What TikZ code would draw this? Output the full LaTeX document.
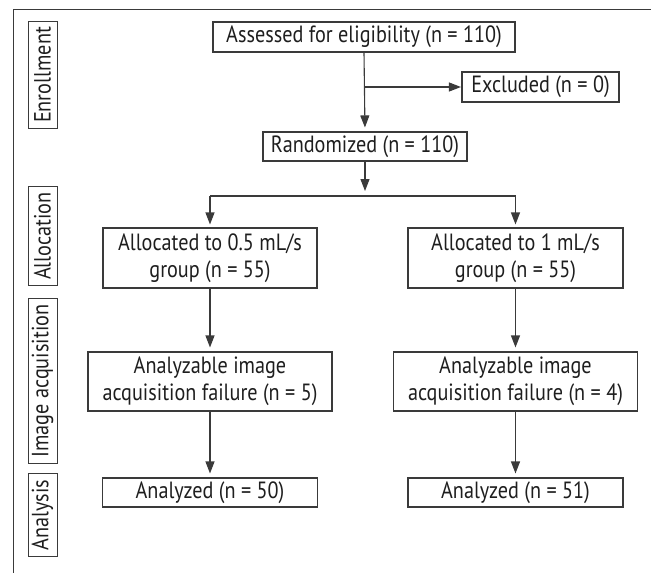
\documentclass[tikz,border=0pt]{standalone}
\usepackage{fontspec}
\setmainfont[FakeStretch=0.86]{PT Sans}
\usetikzlibrary{arrows.meta}
\definecolor{linec}{HTML}{3A3A3A}
\definecolor{textc}{HTML}{1E1E1E}
\begin{document}
\begin{tikzpicture}[x=1pt,y=-1pt,
  box/.style={draw=linec, line width=1.1pt, inner sep=0pt, align=center,
    font=\fontsize{23.5}{27}\selectfont, text=textc},
  lab/.style={draw=linec, line width=1pt, rotate=90, inner xsep=6pt, inner ysep=0pt,
    minimum height=29pt, font=\fontsize{23.5}{26}\selectfont, text=textc},
  arr/.style={draw=linec, line width=1.1pt, -{Triangle[length=12pt,width=9pt]}, shorten >=4pt},
  ln/.style={draw=linec, line width=1.1pt}]
\useasboundingbox (0,0) rectangle (651,573);
% frame
\coordinate (fr1) at (651,9);
\coordinate (fr2) at (13,9);
\coordinate (fr3) at (13,573);
\draw[ln, line width=1pt] (fr1) -- (fr2) -- (fr3);
% side labels
\node[lab] (lenr) at (42.5,75) {Enrollment};
\node[lab] (lall) at (42.5,236) {Allocation};
\node[lab] (limg) at (42.5,381) {Image acquisition};
\node[lab] (lana) at (42.5,515) {Analysis};
% boxes
\node[box, minimum width=302pt, minimum height=30pt] (assess) at (364,37) {Assessed for eligibility (n = 110)};
\node[box, minimum width=157pt, minimum height=30pt] (excl) at (540.5,87) {Excluded (n = 0)};
\node[box, minimum width=204pt, minimum height=29pt] (rand) at (365,146.5) {Randomized (n = 110)};
\node[box, minimum width=214pt, minimum height=60pt] (allocA) at (210,258) {Allocated to 0.5 mL/s\\group (n = 55)};
\node[box, minimum width=215pt, minimum height=60pt] (allocB) at (515.5,258) {Allocated to 1 mL/s\\group (n = 55)};
\node[box, minimum width=244pt, minimum height=59pt] (imgA) at (210,381.5) {Analyzable image\\acquisition failure (n = 5)};
\node[box, minimum width=244pt, minimum height=59pt] (imgB) at (515.5,381.5) {Analyzable image\\acquisition failure (n = 4)};
\node[box, minimum width=215pt, minimum height=29pt] (anaA) at (210,492.5) {Analyzed (n = 50)};
\node[box, minimum width=215pt, minimum height=29pt] (anaB) at (515.5,492.5) {Analyzed (n = 51)};
% connectors
\coordinate (br) at (assess.south |- excl.west);
\draw[arr] (assess.south) -- (rand.north);
\draw[arr, shorten >=0.5pt] (br) -- (excl.west);
\coordinate (sp) at (365,196);
\coordinate (spA) at (allocA.north |- sp);
\coordinate (spB) at (allocB.north |- sp);
\draw[arr, shorten >=5pt] (rand.south) -- (sp);
\draw[ln] (spA) -- (spB);
\draw[arr, shorten >=3pt] (spA) -- (allocA.north);
\draw[arr, shorten >=3pt] (spB) -- (allocB.north);
\draw[arr] (allocA.south) -- (imgA.north);
\draw[arr] (allocB.south) -- (imgB.north);
\draw[arr] (imgA.south) -- (anaA.north);
\draw[arr] (imgB.south) -- (anaB.north);
\end{tikzpicture}
\end{document}
